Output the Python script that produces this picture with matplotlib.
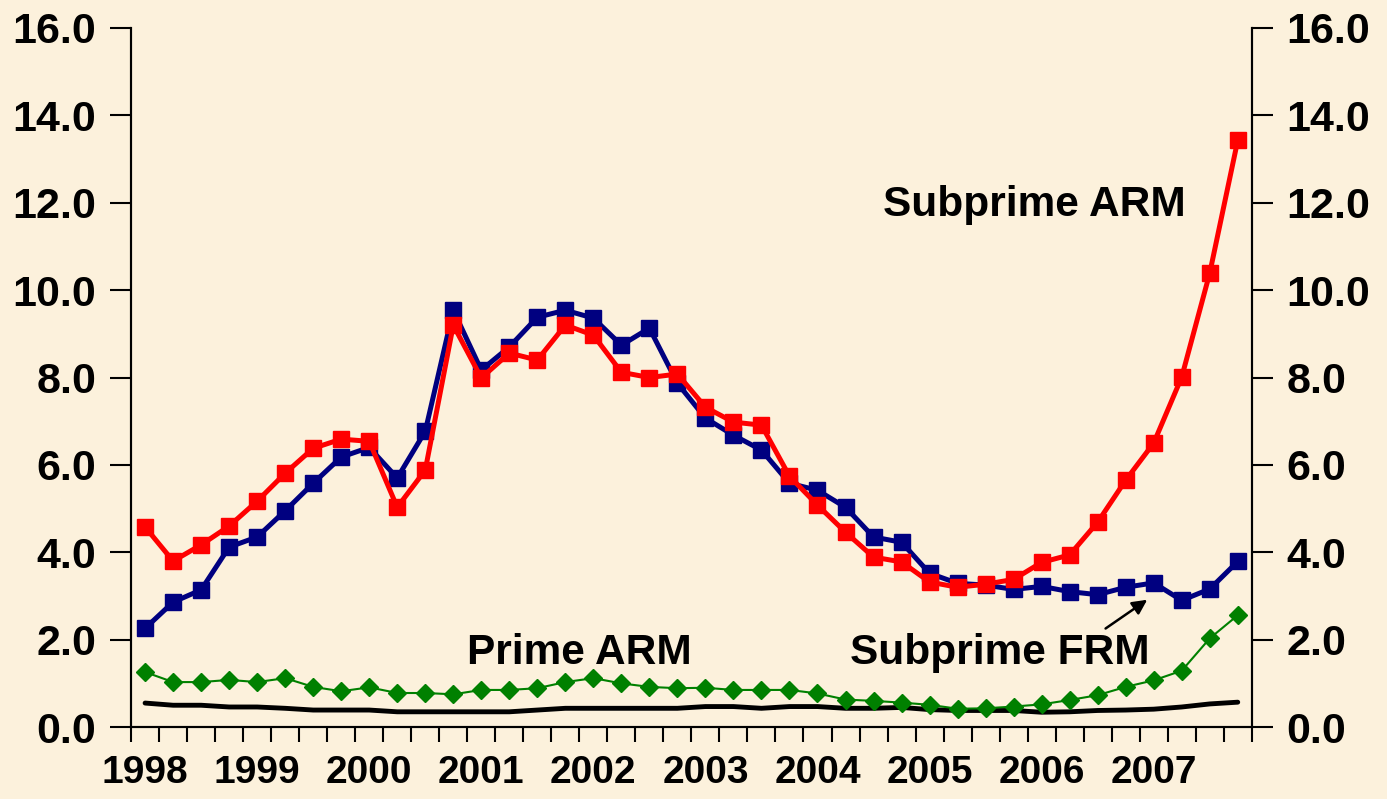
import numpy as np
import matplotlib
matplotlib.use("Agg")
import matplotlib.pyplot as plt

plt.rcParams['font.family'] = ['Liberation Sans', 'DejaVu Sans']
plt.rcParams['font.weight'] = 'bold'

# quarterly, 1998Q1 .. 2007Q4
years = ["1998", "1999", "2000", "2001", "2002", "2003", "2004", "2005", "2006", "2007"]

subprime_arm = [4.58, 3.80, 4.17, 4.60, 5.17, 5.81, 6.38, 6.59, 6.54, 5.03,
                5.88, 9.20, 7.99, 8.56, 8.40, 9.20, 8.97, 8.12, 8.00, 8.08,
                7.32, 6.98, 6.91, 5.74, 5.08, 4.46, 3.89, 3.78, 3.32, 3.20,
                3.27, 3.38, 3.77, 3.94, 4.69, 5.65, 6.50, 8.01, 10.39, 13.43]

subprime_frm = [2.26, 2.86, 3.14, 4.12, 4.35, 4.95, 5.58, 6.18, 6.40, 5.70,
                6.77, 9.54, 8.17, 8.70, 9.38, 9.54, 9.36, 8.74, 9.13, 7.87,
                7.07, 6.68, 6.34, 5.58, 5.42, 5.03, 4.35, 4.23, 3.52, 3.29,
                3.25, 3.15, 3.22, 3.10, 3.03, 3.20, 3.30, 2.90, 3.16, 3.79]

prime_arm = [1.26, 1.03, 1.03, 1.08, 1.03, 1.12, 0.92, 0.82, 0.91, 0.78,
             0.78, 0.75, 0.85, 0.85, 0.89, 1.03, 1.12, 1.00, 0.92, 0.89,
             0.90, 0.85, 0.85, 0.85, 0.77, 0.63, 0.60, 0.56, 0.51, 0.42,
             0.43, 0.47, 0.52, 0.62, 0.73, 0.92, 1.07, 1.29, 2.03, 2.56]

prime_frm = [0.55, 0.50, 0.50, 0.46, 0.46, 0.43, 0.39, 0.39, 0.39, 0.35,
             0.35, 0.35, 0.35, 0.35, 0.39, 0.43, 0.43, 0.43, 0.43, 0.43,
             0.47, 0.47, 0.43, 0.47, 0.47, 0.43, 0.43, 0.45, 0.40, 0.38,
             0.38, 0.38, 0.34, 0.35, 0.38, 0.39, 0.41, 0.46, 0.53, 0.57]

bg = '#fcf1dc'
x = np.arange(len(subprime_arm))

fig = plt.figure(figsize=(13.87, 7.99), dpi=100, facecolor=bg)
ax = fig.add_axes([0.0945, 0.090, 0.808, 0.875], facecolor=bg)

ax.plot(x, prime_frm, color='black', lw=3.5, zorder=2, solid_capstyle='round')
ax.plot(x, prime_arm, color='#008000', lw=1.5, marker='D', ms=9.5, zorder=3)
ax.plot(x, subprime_frm, color='#000080', lw=3.6, marker='s', ms=12, zorder=4)
ax.plot(x, subprime_arm, color='#ff0000', lw=3.6, marker='s', ms=12, zorder=5)

ax.set_xlim(-0.5, len(x) - 0.5)
ax.set_ylim(0, 16)

# category boundaries as ticks, year labels at each Q1
ax.set_xticks(np.arange(len(x) + 1) - 0.5)
ax.set_xticklabels([])
ax.tick_params(axis='x', which='major', length=11, width=1.5, direction='out')
ax.set_xticks(np.arange(len(years)) * 4, minor=True)
ax.set_xticklabels(years, minor=True, fontsize=28, fontweight='bold')
ax.tick_params(axis='x', which='minor', length=0, pad=20)

yt = np.arange(0, 17, 2)
ax.set_yticks(yt)
ax.set_yticklabels([f"{v:.1f}" for v in yt], fontsize=31, fontweight='bold')
ax.tick_params(axis='y', length=15, width=1.5, direction='out', pad=10)

ax2 = ax.twinx()
ax2.set_ylim(0, 16)
ax2.set_yticks(yt)
ax2.set_yticklabels([f"{v:.1f}" for v in yt], fontsize=31, fontweight='bold')
ax2.tick_params(axis='y', length=15, width=1.5, direction='out', pad=10)

for a in (ax, ax2):
    a.spines['top'].set_visible(False)
    for s in ('left', 'right', 'bottom'):
        a.spines[s].set_linewidth(1.5)

ax.text(31.75, 11.95, "Subprime ARM", fontsize=30.5, fontweight='bold', ha='center', va='center')
ax.text(15.5, 1.7, "Prime ARM", fontsize=30.5, fontweight='bold', ha='center', va='center')
ax.text(30.5, 1.7, "Subprime FRM", fontsize=30.5, fontweight='bold', ha='center', va='center')
ax.annotate("", xy=(35.85, 2.95), xytext=(34.2, 2.22),
            arrowprops=dict(arrowstyle='-|>', color='black', lw=1.8, mutation_scale=22))

fig.savefig("out.png", dpi=100, facecolor=bg)
